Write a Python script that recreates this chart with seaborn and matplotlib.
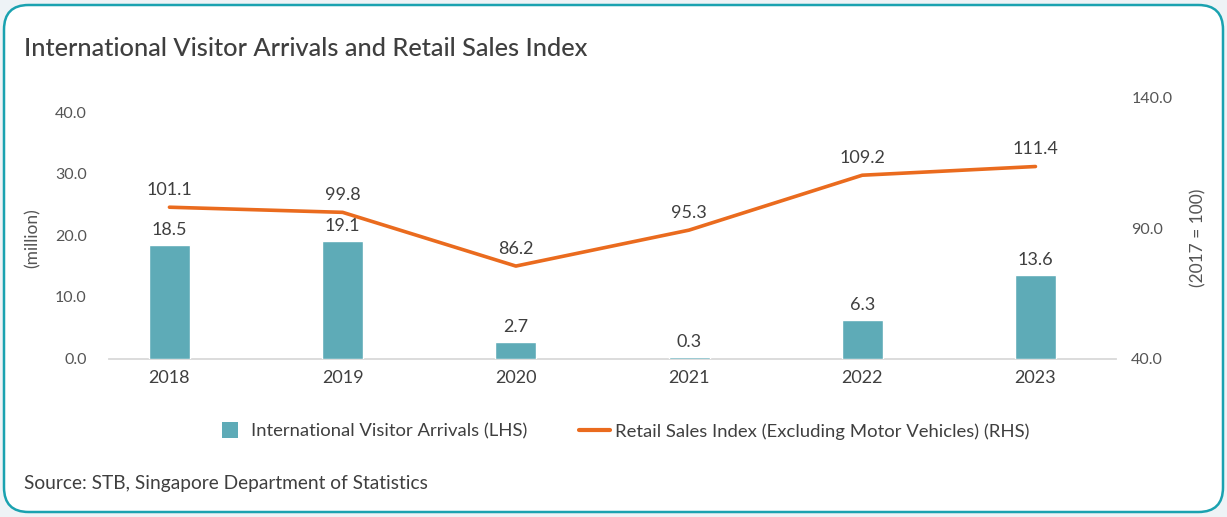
import numpy as np
import pandas as pd
import matplotlib
matplotlib.use("Agg")
import matplotlib.pyplot as plt
from matplotlib.patches import FancyBboxPatch
from matplotlib.lines import Line2D
import seaborn as sns

# --- data -------------------------------------------------------------
years = ["2018", "2019", "2020", "2021", "2022", "2023"]
arrivals = [18.5, 19.1, 2.7, 0.3, 6.3, 13.6]          # million (LHS)
retail_index = [101.1, 99.8, 86.2, 95.3, 109.2, 111.4]  # 2017 = 100 (RHS)
left_ticks = [0.0, 10.0, 20.0, 30.0, 40.0]
right_ticks = [40.0, 90.0, 140.0]

title = "International Visitor Arrivals and Retail Sales Index"
source = "Source: STB, Singapore Department of Statistics"
bar_label = "International Visitor Arrivals (LHS)"
line_label = "Retail Sales Index (Excluding Motor Vehicles) (RHS)"

df = pd.DataFrame({"year": years, "arrivals": arrivals, "rsi": retail_index})

# --- style ------------------------------------------------------------
sns.set_theme(style="white")
plt.rcParams["font.family"] = ["Lato", "DejaVu Sans"]

TEAL = "#5eabb7"
ORANGE = "#ea6b1e"
TEXT = "#3f3f3f"
TICK = "#555555"
BORDER = "#1aa2b0"

W, H = 1227, 517
fig = plt.figure(figsize=(W / 100, H / 100), dpi=100, facecolor="#eef3f6")

# rounded card behind the chart
card = FancyBboxPatch((4 / W, 5 / H), (W - 8) / W, (H - 10) / H,
                      boxstyle="round,pad=0,rounding_size=0.02",
                      transform=fig.transFigure, facecolor="white",
                      edgecolor=BORDER, linewidth=1.8, mutation_aspect=W / H,
                      zorder=-10)
fig.patches.append(card)

left, right = 109 / W, 1116 / W
bottom, top = 1 - 358.5 / H, 1 - 97 / H
ax = fig.add_axes([left, bottom, right - left, top - bottom])
ax.set_facecolor("none")

# bars on the left axis
sns.barplot(data=df, x="year", y="arrivals", ax=ax, color=TEAL,
            saturation=1, width=0.237, zorder=3)

# index line on its own axis
ax_line = ax.twinx()
sns.pointplot(data=df, x="year", y="rsi", ax=ax_line, color=ORANGE,
              markers="", linewidth=2.6, errorbar=None)
ax_line.set_ylim(62.8, 129.0)
ax_line.set_yticks([])
ax_line.set_ylabel("")
for s in ax_line.spines.values():
    s.set_visible(False)

# right-hand scale
ax_r = ax.twinx()
ax_r.set_ylim(40, 140.2)
ax_r.set_yticks(right_ticks)
ax_r.set_yticklabels([f"{v:.1f}" for v in right_ticks])
ax_r.tick_params(axis="y", length=0, pad=11, labelsize=11.5, labelcolor=TICK)
ax_r.set_ylabel("(2017 = 100)", fontsize=12.5, color=TICK)
ax_r.yaxis.set_label_coords(1.074, 0.46)
for s in ax_r.spines.values():
    s.set_visible(False)

ax.set_ylim(0, 42.5)
ax.set_yticks(left_ticks)
ax.set_yticklabels([f"{v:.1f}" for v in left_ticks])
ax.tick_params(axis="y", length=0, pad=16, labelsize=11.5, labelcolor=TICK)
ax.tick_params(axis="x", length=0, pad=8, labelsize=13, labelcolor=TEXT)
ax.set_xlabel("")
ax.set_ylabel("(million)", fontsize=12.5, color=TICK)
ax.yaxis.set_label_coords(-0.068, 0.46)
for name, s in ax.spines.items():
    if name == "bottom":
        s.set_color("#d9d9d9")
        s.set_linewidth(1.3)
        s.set_zorder(2)
    else:
        s.set_visible(False)

ax.set_xlim(-0.349, 5.465)
ax_line.set_xlim(-0.349, 5.465)

# value labels
for i, v in enumerate(arrivals):
    ax.annotate(f"{v:.1f}", (i, v), xytext=(0, 10.5), textcoords="offset points",
                ha="center", va="center", fontsize=13, color=TEXT)
for i, v in enumerate(retail_index):
    ax_line.annotate(f"{v:.1f}", (i, v), xytext=(0, 12.5), textcoords="offset points",
                     ha="center", va="center", fontsize=13, color=TEXT)

# titles and legend
fig.text(24 / W, 1 - 48 / H, title, fontsize=18.3, color=TEXT,
         ha="left", va="center", fontweight="medium")
fig.text(24 / W, 1 - 484 / H, source, fontsize=13.8, color=TEXT,
         ha="left", va="center")

handles = [Line2D([], [], marker="s", markersize=12.2, linestyle="none",
                  color=TEAL, markeredgewidth=0),
           Line2D([], [], color=ORANGE, linewidth=3)]
fig.legend(handles, [bar_label, line_label], loc="center",
           bbox_to_anchor=(622 / W, 1 - 431 / H), ncol=2, frameon=False,
           fontsize=13.3, labelcolor=TEXT, handlelength=1.68, handleheight=1.0,
           handletextpad=0.3, columnspacing=2.8)

fig.savefig("out.png", dpi=100, facecolor=fig.get_facecolor())
